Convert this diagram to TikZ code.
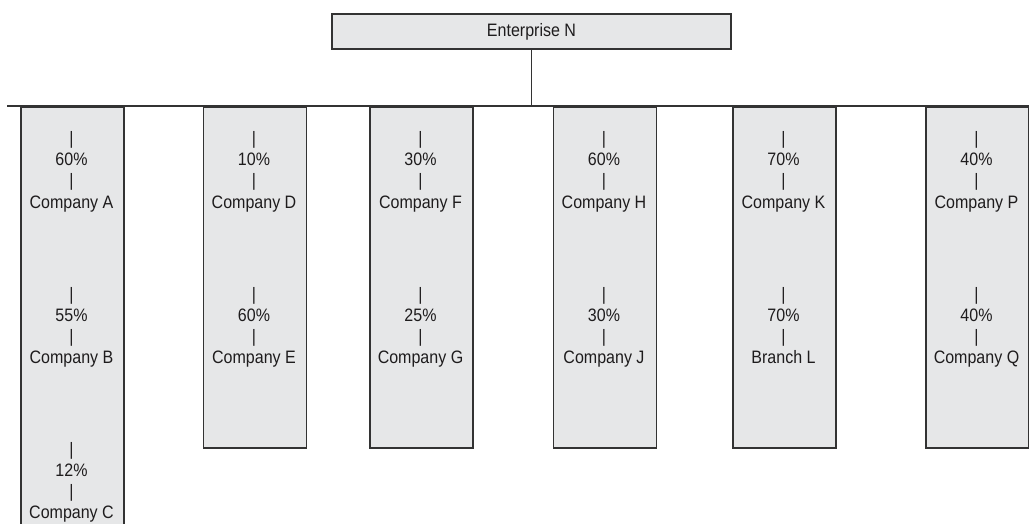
\documentclass[tikz,border=0pt]{standalone}
\usepackage{fontspec}
\setmainfont{Liberation Sans}[FakeStretch=0.89]
\definecolor{boxfill}{HTML}{E6E7E8}
\definecolor{edge}{HTML}{333333}
\definecolor{ink}{HTML}{1E1C1D}
\tikzset{
  colbox/.style={draw=edge, fill=boxfill, line width=1.7pt, inner sep=0pt, anchor=north west, minimum width=103pt},
  topbox/.style={draw=edge, fill=boxfill, line width=1.7pt, inner sep=0pt, minimum width=399pt, minimum height=35pt, text=ink, font=\fontsize{18pt}{21pt}\selectfont},
  lbl/.style={inner sep=0pt, anchor=base, text=ink, font=\fontsize{18pt}{21pt}\selectfont},
  wire/.style={draw=edge, line width=1.8pt}
}
\newcommand{\grp}[5]{%
  \node[lbl] (#1-b1) at (#2,#3-63) {|};
  \node[lbl] (#1-p)  at (#2,#3-42) {#4};
  \node[lbl] (#1-b2) at (#2,#3-21) {|};
  \node[lbl] (#1)    at (#2,#3)    {#5};
}
\begin{document}
\begin{tikzpicture}[x=1pt,y=-1pt]
\useasboundingbox (0,0) rectangle (1029,524);
\clip (0,0) rectangle (1029,524);
\node[topbox] (EN) at (531.5,31.5) {Enterprise N};
\coordinate (busL) at (7,106);
\coordinate (busR) at (1030,106);
\node[colbox, minimum height=430pt] (colA) at (20,106) {};
\node[colbox, minimum height=341pt] (colD) at (202.5,106) {};
\node[colbox, minimum height=341pt] (colF) at (369,106) {};
\node[colbox, minimum height=341pt] (colH) at (552.5,106) {};
\node[colbox, minimum height=341pt] (colK) at (732,106) {};
\node[colbox, minimum height=341pt] (colP) at (925,106) {};
\draw[wire] (busL) -- (busR);
\draw[wire] (EN.south) -- (EN.south |- busL);
\grp{A}{71.5}{208}{60\%}{Company A}
\grp{B}{71.5}{363}{55\%}{Company B}
\grp{C}{71.5}{518}{12\%}{Company C}
\grp{D}{254}{208}{10\%}{Company D}
\grp{E}{254}{363}{60\%}{Company E}
\grp{F}{420.5}{208}{30\%}{Company F}
\grp{G}{420.5}{363}{25\%}{Company G}
\grp{H}{604}{208}{60\%}{Company H}
\grp{J}{604}{363}{30\%}{Company J}
\grp{K}{783.5}{208}{70\%}{Company K}
\grp{L}{783.5}{363}{70\%}{Branch L}
\grp{P}{976.5}{208}{40\%}{Company P}
\grp{Q}{976.5}{363}{40\%}{Company Q}
\end{tikzpicture}
\end{document}
